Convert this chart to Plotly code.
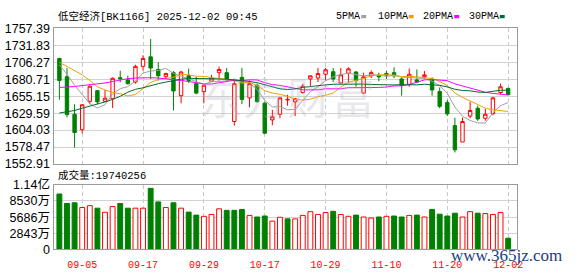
import plotly.graph_objects as go

# ---------------- data ----------------
dates = ["09-02", "09-03", "09-04", "09-05", "09-08", "09-09", "09-10", "09-11", "09-12",
         "09-15", "09-16", "09-17", "09-18", "09-19", "09-22", "09-23", "09-24", "09-25",
         "09-26", "09-29", "09-30", "10-09", "10-10", "10-13", "10-14", "10-15", "10-16",
         "10-17", "10-20", "10-21", "10-22", "10-23", "10-24", "10-27", "10-28", "10-29",
         "10-30", "10-31", "11-03", "11-04", "11-05", "11-06", "11-07", "11-10", "11-11",
         "11-12", "11-13", "11-14", "11-17", "11-18", "11-19", "11-20", "11-21", "11-24",
         "11-25", "11-26", "11-27", "11-28", "12-01", "12-02"]

open_ = [1712.0, 1684.5, 1627.9, 1604.6, 1647.4, 1663.5, 1647.4, 1651.2, 1683.0, 1679.7,
         1676.4, 1700.1, 1714.4, 1695.4, 1684.5, 1690.6, 1655.9, 1685.9, 1674.0, 1662.1,
         1677.8, 1690.6, 1690.6, 1617.0, 1683.5, 1652.6, 1671.6, 1644.6, 1619.4, 1627.9,
         1649.5, 1646.5, 1660.7, 1681.1, 1682.5, 1688.2, 1692.0, 1675.0, 1689.7, 1691.6,
         1659.8, 1685.9, 1685.9, 1689.5, 1690.6, 1681.1, 1673.0, 1679.7, 1684.5, 1681.1,
         1662.1, 1645.5, 1610.8, 1586.1, 1625.1, 1637.0, 1621.8, 1628.9, 1660.7, 1666.9]
high = [1713.0, 1697.7, 1643.0, 1643.0, 1671.0, 1664.0, 1664.5, 1683.5, 1693.5, 1686.0,
        1702.5, 1716.8, 1741.4, 1706.3, 1690.6, 1693.0, 1693.0, 1696.8, 1684.5, 1674.0,
        1687.3, 1699.6, 1697.7, 1678.8, 1697.7, 1678.8, 1674.0, 1646.5, 1634.6, 1654.0,
        1657.4, 1652.6, 1674.0, 1686.0, 1697.7, 1697.7, 1697.7, 1697.7, 1698.7, 1693.0,
        1690.6, 1694.0, 1690.6, 1693.0, 1698.7, 1683.5, 1696.8, 1695.4, 1693.0, 1683.5,
        1668.3, 1649.3, 1622.7, 1622.7, 1647.0, 1640.7, 1636.0, 1654.0, 1674.0, 1667.8]
low = [1650.0, 1623.2, 1577.6, 1599.0, 1643.0, 1643.0, 1646.5, 1637.4, 1676.0, 1672.6,
       1674.0, 1694.0, 1681.0, 1678.7, 1681.1, 1633.6, 1644.5, 1675.0, 1658.0, 1644.5,
       1677.0, 1678.7, 1676.4, 1610.8, 1643.1, 1638.4, 1645.5, 1598.0, 1611.3, 1621.8,
       1640.7, 1625.1, 1658.8, 1669.3, 1676.4, 1678.8, 1676.4, 1674.0, 1675.4, 1669.3,
       1658.8, 1682.5, 1677.8, 1681.1, 1682.5, 1656.0, 1669.3, 1675.0, 1681.1, 1656.0,
       1637.0, 1625.5, 1570.4, 1586.0, 1621.8, 1618.0, 1618.0, 1626.5, 1657.4, 1656.4]
close = [1678.7, 1627.4, 1600.4, 1642.2, 1670.2, 1646.5, 1652.2, 1682.1, 1681.5, 1674.0,
         1700.1, 1712.0, 1697.7, 1685.9, 1689.2, 1663.0, 1691.6, 1678.8, 1659.8, 1671.6,
         1682.5, 1695.4, 1681.1, 1674.0, 1650.3, 1674.0, 1646.9, 1599.4, 1624.1, 1652.6,
         1650.3, 1651.2, 1670.2, 1685.9, 1689.2, 1694.9, 1681.1, 1687.3, 1696.3, 1678.8,
         1684.5, 1690.6, 1684.5, 1686.8, 1685.9, 1671.6, 1688.2, 1676.4, 1687.3, 1664.5,
         1639.8, 1628.4, 1574.3, 1617.0, 1633.6, 1620.8, 1627.9, 1652.6, 1669.3, 1657.4]

volume = [97.6, 80.9, 82.1, 73.8, 77.1, 72.6, 65.4, 75.4, 80.9, 72.6,
          72.6, 72.6, 107.6, 83.7, 73.8, 82.1, 72.6, 65.7, 60.4, 58.3,
          61.6, 71.5, 68.8, 68.8, 70.4, 59.9, 57.1, 58.8, 49.9, 56.6,
          53.8, 53.8, 59.9, 66.5, 61.6, 64.9, 67.1, 61.6, 58.3, 60.4,
          57.1, 55.4, 57.1, 58.3, 58.8, 57.1, 59.9, 60.4, 57.1, 70.4,
          62.1, 58.8, 63.8, 57.1, 66.5, 63.8, 63.2, 61.6, 64.9, 19.740256]  # millions

ma5 = [1702.5, 1688.3, 1671.6, 1657.4, 1643.8, 1637.3, 1642.3, 1658.6, 1666.5, 1669.5,
       1678.0, 1689.9, 1693.1, 1693.9, 1697.0, 1689.6, 1685.5, 1681.7, 1676.5, 1673.0,
       1676.9, 1677.6, 1678.1, 1680.9, 1676.7, 1675.0, 1665.3, 1648.9, 1638.9, 1639.4,
       1634.6, 1635.5, 1649.6, 1662.0, 1669.3, 1678.3, 1684.3, 1687.7, 1689.8, 1687.7,
       1685.6, 1687.5, 1686.9, 1685.1, 1686.4, 1683.9, 1683.4, 1681.8, 1681.9, 1677.6,
       1671.2, 1659.3, 1638.9, 1624.8, 1618.6, 1614.8, 1614.7, 1630.4, 1640.8, 1645.6]
ma10 = [1706.3, 1700.1, 1694.4, 1687.3, 1678.8, 1669.3, 1664.5, 1660.7, 1658.8, 1655.5,
        1657.7, 1666.1, 1675.9, 1680.2, 1682.1, 1683.8, 1687.7, 1687.4, 1685.2, 1685.0,
        1683.2, 1681.6, 1679.9, 1678.7, 1674.8, 1675.9, 1671.4, 1663.5, 1659.9, 1658.0,
        1654.8, 1650.4, 1649.3, 1650.5, 1654.4, 1656.5, 1659.9, 1668.9, 1676.1, 1678.7,
        1681.9, 1685.9, 1687.3, 1687.4, 1687.0, 1684.5, 1685.2, 1684.1, 1683.2, 1681.8,
        1677.3, 1671.1, 1660.1, 1653.3, 1648.1, 1643.0, 1637.0, 1634.6, 1632.8, 1632.1]
ma20 = [1668.3, 1668.8, 1669.7, 1671.2, 1672.1, 1673.5, 1675.0, 1677.3, 1679.7, 1681.6,
        1682.5, 1683.0, 1683.0, 1682.5, 1681.6, 1680.2, 1678.8, 1677.3, 1675.9, 1673.5,
        1673.5, 1675.0, 1677.3, 1679.2, 1678.5, 1679.8, 1679.6, 1675.4, 1672.6, 1671.5,
        1669.0, 1666.1, 1664.7, 1664.7, 1664.7, 1666.3, 1665.8, 1666.2, 1668.0, 1668.4,
        1668.5, 1668.2, 1668.4, 1668.9, 1670.7, 1670.6, 1672.7, 1676.5, 1679.7, 1680.3,
        1679.6, 1678.5, 1673.7, 1670.3, 1667.5, 1663.8, 1661.1, 1659.4, 1658.0, 1657.0]
ma30 = [1629.8, 1631.3, 1633.6, 1637.0, 1639.8, 1643.1, 1646.5, 1650.3, 1655.0, 1661.2,
        1665.5, 1667.8, 1671.2, 1674.0, 1676.4, 1678.8, 1680.7, 1682.1, 1682.1, 1681.6,
        1681.1, 1681.1, 1680.7, 1679.7, 1678.8, 1677.3, 1675.5, 1672.5, 1669.5, 1666.2,
        1665.3, 1666.1, 1668.4, 1669.9, 1670.5, 1672.1, 1673.1, 1673.3, 1673.7, 1673.9,
        1673.4, 1672.7, 1672.2, 1672.2, 1672.1, 1672.4, 1672.2, 1672.2, 1673.1, 1672.8,
        1671.4, 1669.2, 1665.6, 1663.7, 1663.2, 1661.4, 1660.8, 1662.5, 1664.0, 1664.2]

price_ticks = [1552.91, 1578.47, 1604.03, 1629.59, 1655.15, 1680.71, 1706.27, 1731.83, 1757.39]
vol_ticks = [0, 28.43, 56.86, 85.30, 113.72]
vol_tick_text = ["0", "2843万", "5686万", "8530万", "1.14亿"]
date_tick_idx = [3, 11, 19, 27, 35, 43, 51, 59]

title_text = "低空经济[BK1166] 2025-12-02 09:45"
vol_title = "成交量:19740256"
ma_names = ["5PMA", "10PMA", "20PMA", "30PMA"]
ma_colors = ["#a0a0a0", "#f0a000", "#ff00ff", "#006a30"]

# ---------------- figure ----------------
W, H = 578, 276
def px(x):
    return x / W
def py(y):
    return 1 - y / H

idx = list(range(len(dates)))
RED, GREEN = "#ff0000", "#008000"

fig = go.Figure()
fig.add_trace(go.Candlestick(
    x=idx, open=open_, high=high, low=low, close=close,
    xaxis="x", yaxis="y", whiskerwidth=0,
    increasing=dict(line=dict(color=RED, width=1), fillcolor="#ffffff"),
    decreasing=dict(line=dict(color=GREEN, width=1), fillcolor=GREEN),
    showlegend=False, hoverinfo="skip"))

for vals, col in zip([ma5, ma10, ma20, ma30], ma_colors):
    fig.add_trace(go.Scatter(x=idx, y=vals, mode="lines", xaxis="x", yaxis="y",
                             line=dict(color=col, width=1), showlegend=False,
                             hoverinfo="skip"))

up = [(close[i] >= (close[i - 1] if i > 0 else open_[i])) for i in idx]
fig.add_trace(go.Bar(
    x=idx, y=volume, xaxis="x2", yaxis="y2",
    marker=dict(color=["#ffffff" if u else GREEN for u in up],
                line=dict(color=[RED if u else GREEN for u in up], width=1)),
    showlegend=False, hoverinfo="skip"))

xdom = [px(55), px(522.7)]
xr = [-0.65, 60.2]
frame = dict(showline=True, mirror=True, linecolor="#9a9a9a", linewidth=1, zeroline=False)

fig.update_layout(
    width=W, height=H, margin=dict(l=0, r=0, t=0, b=0),
    paper_bgcolor="white", plot_bgcolor="white",
    bargap=0.36, boxgap=0.36,
    xaxis=dict(domain=xdom, range=xr, anchor="y", tickvals=date_tick_idx,
               showticklabels=False, ticks="", showgrid=True, gridcolor="#c8c8c8",
               griddash="4px,3px", gridwidth=1, rangeslider=dict(visible=False), **frame),
    xaxis2=dict(domain=xdom, range=xr, anchor="y2", matches="x", tickvals=date_tick_idx,
                ticktext=[dates[i] for i in date_tick_idx], ticks="", ticklabelstandoff=6,
                tickfont=dict(family="Liberation Mono", size=10, color=RED),
                showgrid=True, gridcolor="#c8c8c8", griddash="4px,3px", gridwidth=1, **frame),
    yaxis=dict(domain=[py(165), py(21.5)], range=[price_ticks[0], price_ticks[-1]],
               anchor="x", tickvals=price_ticks, ticktext=[f"{v:.2f}" for v in price_ticks],
               tickfont=dict(family="Liberation Sans", size=12.5, color="#000000"),
               ticks="", ticklabelstandoff=1, showgrid=True, gridcolor="#d2d2d2", **frame),
    yaxis2=dict(domain=[py(255.3), py(187)], range=[0, vol_ticks[-1]], anchor="x2",
                tickvals=vol_ticks, ticktext=vol_tick_text,
                tickfont=dict(family="Liberation Sans, Noto Sans CJK SC", size=12.5, color="#000000"),
                ticks="", ticklabelstandoff=1, showgrid=True, gridcolor="#d2d2d2", **frame),
)

ann = []
# watermark logo text
ann.append(dict(x=px(290), y=py(93), xref="paper", yref="paper", text="东方财富",
                showarrow=False, xanchor="center", yanchor="middle",
                font=dict(family="Noto Sans CJK SC", size=44, color="rgba(175,175,190,0.28)")))
ann.append(dict(x=px(57), y=py(9), xref="paper", yref="paper", text=title_text,
                showarrow=False, xanchor="left", yanchor="middle",
                font=dict(family="Liberation Mono, Noto Sans CJK SC", size=10.5, color="#000000")))
ann.append(dict(x=px(57), y=py(177), xref="paper", yref="paper", text=vol_title,
                showarrow=False, xanchor="left", yanchor="middle",
                font=dict(family="Liberation Mono, Noto Sans CJK SC", size=10.5, color="#000000")))

legend_text_x = [338, 380, 425, 472]
legend_sq_x = [365, 413, 459, 505]
shapes = []
for name, col, tx, sx in zip(ma_names, ma_colors, legend_text_x, legend_sq_x):
    ann.append(dict(x=px(tx), y=py(9), xref="paper", yref="paper", text=name,
                    showarrow=False, xanchor="left", yanchor="middle",
                    font=dict(family="Liberation Mono", size=10, color="#000000")))
    shapes.append(dict(type="rect", xref="paper", yref="paper",
                       x0=px(sx), x1=px(sx + 5), y0=py(10.8), y1=py(7.4),
                       fillcolor=col, line=dict(width=0)))

ann.append(dict(x=px(512), y=py(262), xref="paper", yref="paper", text="www.365jz.com",
                showarrow=False, xanchor="center", yanchor="middle",
                font=dict(family="Liberation Serif", size=17, color="#1f3c78")))

fig.update_layout(annotations=ann, shapes=shapes)
fig.write_html("out.html")
